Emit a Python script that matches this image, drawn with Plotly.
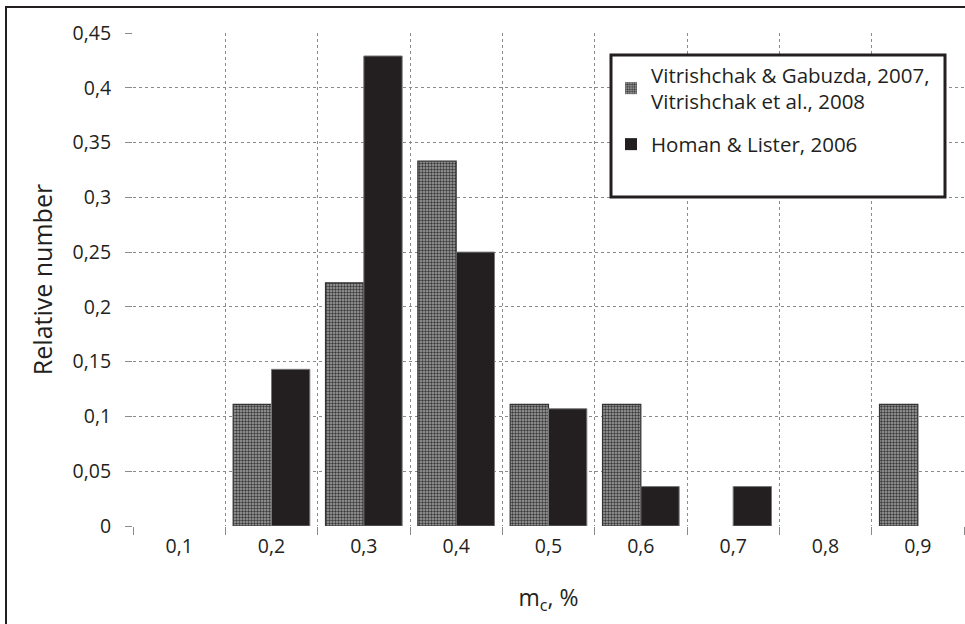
import plotly.graph_objects as go

categories = ["0,1", "0,2", "0,3", "0,4", "0,5", "0,6", "0,7", "0,8", "0,9"]
vitrishchak = [0, 0.111, 0.222, 0.333, 0.111, 0.111, 0, 0, 0.111]
homan = [0, 0.143, 0.429, 0.25, 0.107, 0.036, 0.036, 0, 0]
y_ticks = [0, 0.05, 0.1, 0.15, 0.2, 0.25, 0.3, 0.35, 0.4, 0.45]
y_ticktext = ["0", "0,05", "0,1", "0,15", "0,2", "0,25", "0,3", "0,35", "0,4", "0,45"]

FONT = "Open Sans"
W, H = 965, 624
L, R, T, B = 133, 1, 33, 98
pw, ph = W - L - R, H - T - B

def px_x(p):
    return (p - L) / pw

def px_y(p):
    return (H - B - p) / ph

fig = go.Figure()
fig.add_trace(go.Bar(
    x=categories, y=vitrishchak,
    name="Vitrishchak & Gabuzda, 2007,<br>Vitrishchak et al., 2008",
    legendgroup="v",
    marker=dict(color="#8c8c8c",
                line=dict(color="#333333", width=[0 if v == 0 else 1.2 for v in vitrishchak]),
                pattern=dict(shape=".", size=3, solidity=0.5,
                             bgcolor="#a4a4a4", fgcolor="#3a3a3a", fillmode="replace")),
))
fig.add_trace(go.Bar(
    x=categories, y=homan,
    name="Homan & Lister, 2006",
    legendgroup="h",
    marker=dict(color="#231f20",
                line=dict(color="#777777", width=[0 if v == 0 else 1 for v in homan])),
))

fig.update_layout(
    width=W, height=H,
    margin=dict(l=L, r=R, t=T, b=B),
    paper_bgcolor="white", plot_bgcolor="white",
    barmode="group", bargap=0.17, bargroupgap=0,
    font=dict(family=FONT, size=19, color="#231f20"),
    showlegend=True,
    legend=dict(
        x=px_x(611), y=px_y(55),
        xanchor="left", yanchor="top",
        borderwidth=0, bgcolor="rgba(0,0,0,0)",
        font=dict(family=FONT, size=20.5, color="#231f20"),
        itemwidth=30, tracegroupgap=13,
    ),
    xaxis=dict(
        type="category", tickson="boundaries",
        showgrid=True, gridcolor="#8a8a8a", griddash="dot", gridwidth=1,
        ticks="outside", ticklen=8, tickcolor="#8a8a8a",
        showline=False, zeroline=False,
        tickfont=dict(size=19.5), ticklabelstandoff=6,
        range=[-0.5, 8.5],
        title=dict(text="m<sub>c</sub>, %", font=dict(size=23), standoff=32),
    ),
    yaxis=dict(
        range=[0, 0.45], tickvals=y_ticks, ticktext=y_ticktext,
        showgrid=True, gridcolor="#8a8a8a", griddash="dot", gridwidth=1,
        ticks="outside", ticklen=7, tickcolor="#8a8a8a",
        showline=False, zeroline=False,
        tickfont=dict(size=19.5), ticklabelstandoff=10,
        title=dict(text="Relative number", font=dict(size=25), standoff=12),
    ),
)

# legend frame
fig.add_shape(type="rect", xref="paper", yref="paper",
              x0=px_x(611), x1=px_x(945), y0=px_y(197), y1=px_y(55),
              line=dict(color="#231f20", width=3), fillcolor="white", layer="above")

# outer chart frame (only left and top visible in reference)
fig.add_shape(type="rect", xref="paper", yref="paper",
              x0=px_x(6), x1=px_x(990), y0=px_y(660), y1=px_y(7),
              line=dict(color="#231f20", width=2), fillcolor="rgba(0,0,0,0)", layer="above")

fig.write_html("out.html")
